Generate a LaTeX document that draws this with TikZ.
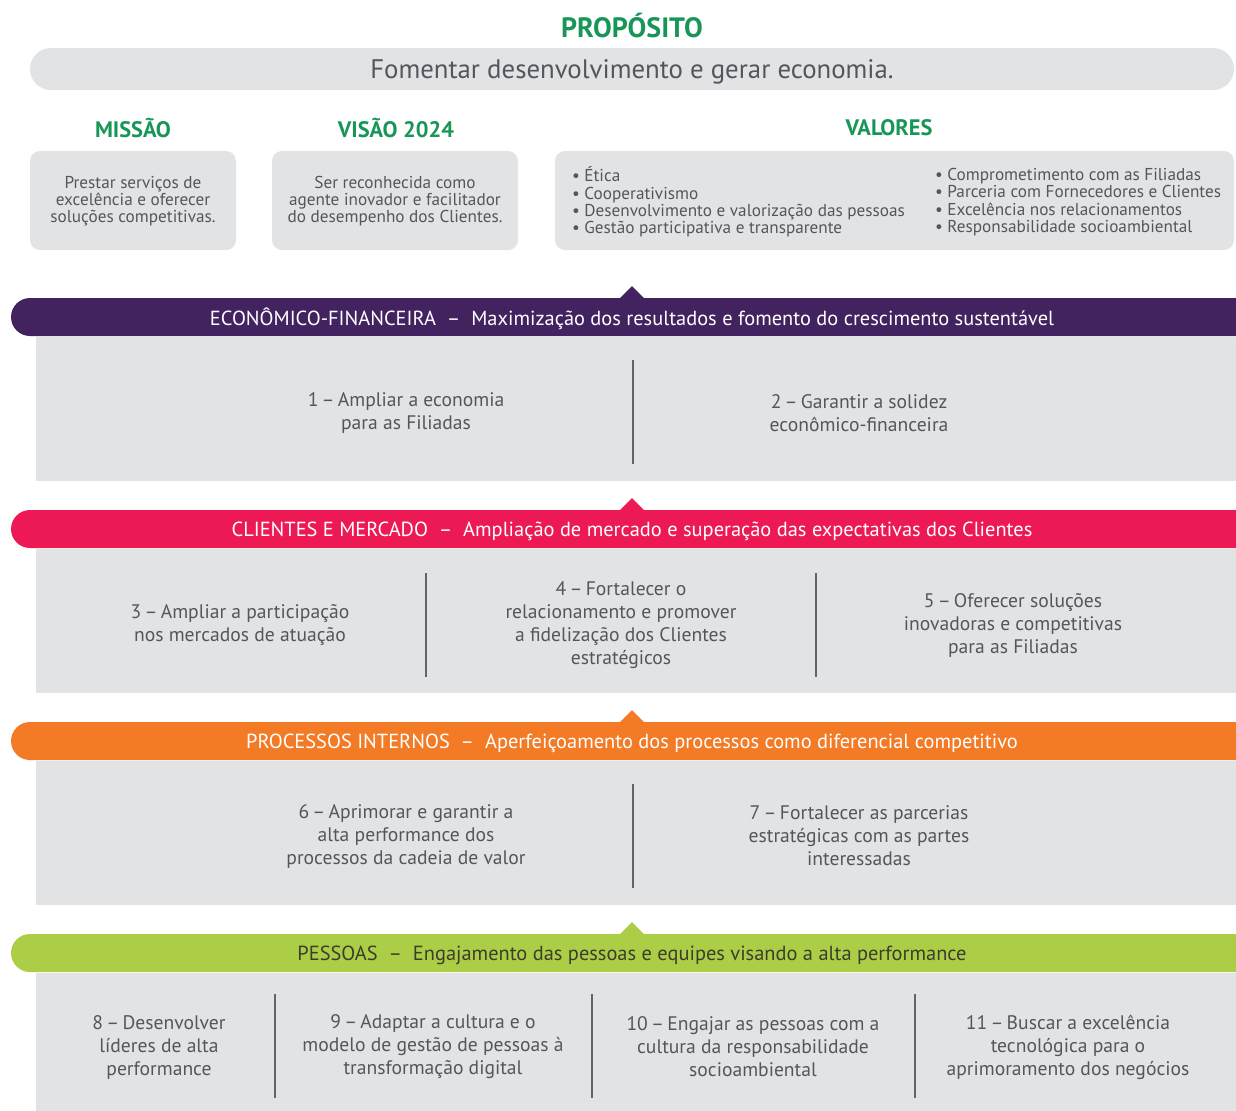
\documentclass[tikz,border=0pt]{standalone}
\usepackage{fontspec}
\setmainfont{PT Sans}
\usetikzlibrary{positioning}

\definecolor{verde}{RGB}{24,150,88}
\definecolor{cinza}{RGB}{226,227,229}
\definecolor{texto}{RGB}{84,86,93}
\definecolor{linha}{RGB}{98,100,106}
\definecolor{roxo}{RGB}{66,35,96}
\definecolor{rosa}{RGB}{237,25,85}
\definecolor{laranja}{RGB}{243,123,38}
\definecolor{lima}{RGB}{172,206,70}
\definecolor{oliva}{RGB}{58,62,44}

\tikzset{
  titulo/.style={text=verde, font=\bfseries\fontsize{11.2}{13}\selectfont},
  caixa/.style={fill=cinza, rounded corners=5pt},
  textocaixa/.style={text=texto, align=center, font=\fontsize{8.6}{8.5}\selectfont},
  lista/.style={text=texto, align=left, font=\fontsize{8.6}{8.7}\selectfont},
  faixatexto/.style={font=\fontsize{10.2}{12}\selectfont},
  objetivo/.style={text=texto, align=center, font=\fontsize{9.8}{11.5}\selectfont},
  divisor/.style={draw=linha, line width=1pt},
}

\begin{document}
\begin{tikzpicture}[x=0.5pt, y=-0.5pt]
  \clip (0,0) rectangle (1236,1110);
  \fill[white] (0,0) rectangle (1236,1110);

  % proposito
  \node[text=verde, font=\bfseries\fontsize{14}{16}\selectfont] (proposito) at (632,26) {PROPÓSITO};
  \fill[cinza, rounded corners=10.5pt] (30,48) rectangle (1234,90);
  \node[text=texto, font=\fontsize{13.4}{15}\selectfont] (fomentar) at (632,72) {Fomentar desenvolvimento e gerar economia.};

  % missao, visao, valores
  \node[titulo] (missao) at (133,128) {MISSÃO};
  \node[titulo] (visao) at (396,128) {VISÃO 2024};
  \node[titulo] (valores) at (889,128) {VALORES};
  \fill[caixa] (30,151) rectangle (236,250);
  \fill[caixa] (272,151) rectangle (518,250);
  \fill[caixa] (555,151) rectangle (1234,250);
  \node[textocaixa] (txtmissao) at (133,201) {Prestar serviços de\\excelência e oferecer\\soluções competitivas.};
  \node[textocaixa] (txtvisao) at (395,201) {Ser reconhecida como\\agente inovador e facilitador\\do desempenho dos Clientes.};
  \node[lista, anchor=west] (valesq) at (565,202) {• Ética\\• Cooperativismo\\• Desenvolvimento e valorização das pessoas\\• Gestão participativa e transparente};
  \node[lista, anchor=west] (valdir) at (928,202) {• Comprometimento com as Filiadas\\• Parceria com Fornecedores e Clientes\\• Excelência nos relacionamentos\\• Responsabilidade socioambiental};

  % faixas das perspectivas
  \foreach \y/\cor/\tcor/\nome/\rotulo in {
      298/roxo/white/econ/{ECONÔMICO-FINANCEIRA~ –~ Maximização dos resultados e fomento do crescimento sustentável},
      510/rosa/white/clientes/{CLIENTES E MERCADO~ –~ Ampliação de mercado e superação das expectativas dos Clientes},
      722/laranja/white/processos/{PROCESSOS INTERNOS~ –~ Aperfeiçoamento dos processos como diferencial competitivo},
      934/lima/oliva/pessoas/{PESSOAS~ –~ Engajamento das pessoas e equipes visando a alta performance}} {
    \fill[\cor] (619,\y+1) -- (632,\y-12) -- (645,\y+1) -- cycle;
    \fill[\cor, rounded corners=9.5pt] (11,\y) rectangle (1270,\y+38);
    \fill[cinza] (36,\y+39) rectangle (1236,\y+183);
    \node[faixatexto, text=\tcor] (\nome) at (632,\y+21) {\rotulo};
  }

  % objetivos
  \node[objetivo] (obj1) at (406,413) {1\,–\,Ampliar a economia\\para as Filiadas};
  \node[objetivo] (obj2) at (859,413) {2\,–\,Garantir a solidez\\econômico-financeira};
  \draw[divisor] (633,360) -- (633,464);

  \node[objetivo] (obj3) at (240,625) {3\,–\,Ampliar a participação\\nos mercados de atuação};
  \node[objetivo] (obj4) at (621,625) {4\,–\,Fortalecer o\\relacionamento e promover\\a fidelização dos Clientes\\estratégicos};
  \node[objetivo] (obj5) at (1013,625) {5\,–\,Oferecer soluções\\inovadoras e competitivas\\para as Filiadas};
  \draw[divisor] (426,573) -- (426,677);
  \draw[divisor] (816,573) -- (816,677);

  \node[objetivo] (obj6) at (406,836) {6\,–\,Aprimorar e garantir a\\alta performance dos\\processos da cadeia de valor};
  \node[objetivo] (obj7) at (859,836) {7\,–\,Fortalecer as parcerias\\estratégicas com as partes\\interessadas};
  \draw[divisor] (633,784) -- (633,888);

  \node[objetivo] (obj8) at (159,1047) {8\,–\,Desenvolver\\líderes de alta\\performance};
  \node[objetivo] (obj9) at (433,1047) {9\,–\,Adaptar a cultura e o\\modelo de gestão de pessoas à\\transformação digital};
  \node[objetivo] (obj10) at (753,1047) {10\,–\,Engajar as pessoas com a\\cultura da responsabilidade\\socioambiental};
  \node[objetivo] (obj11) at (1068,1047) {11\,–\,Buscar a excelência\\tecnológica para o\\aprimoramento dos negócios};
  \draw[divisor] (275,994) -- (275,1098);
  \draw[divisor] (592,994) -- (592,1098);
  \draw[divisor] (915,994) -- (915,1098);
\end{tikzpicture}
\end{document}
